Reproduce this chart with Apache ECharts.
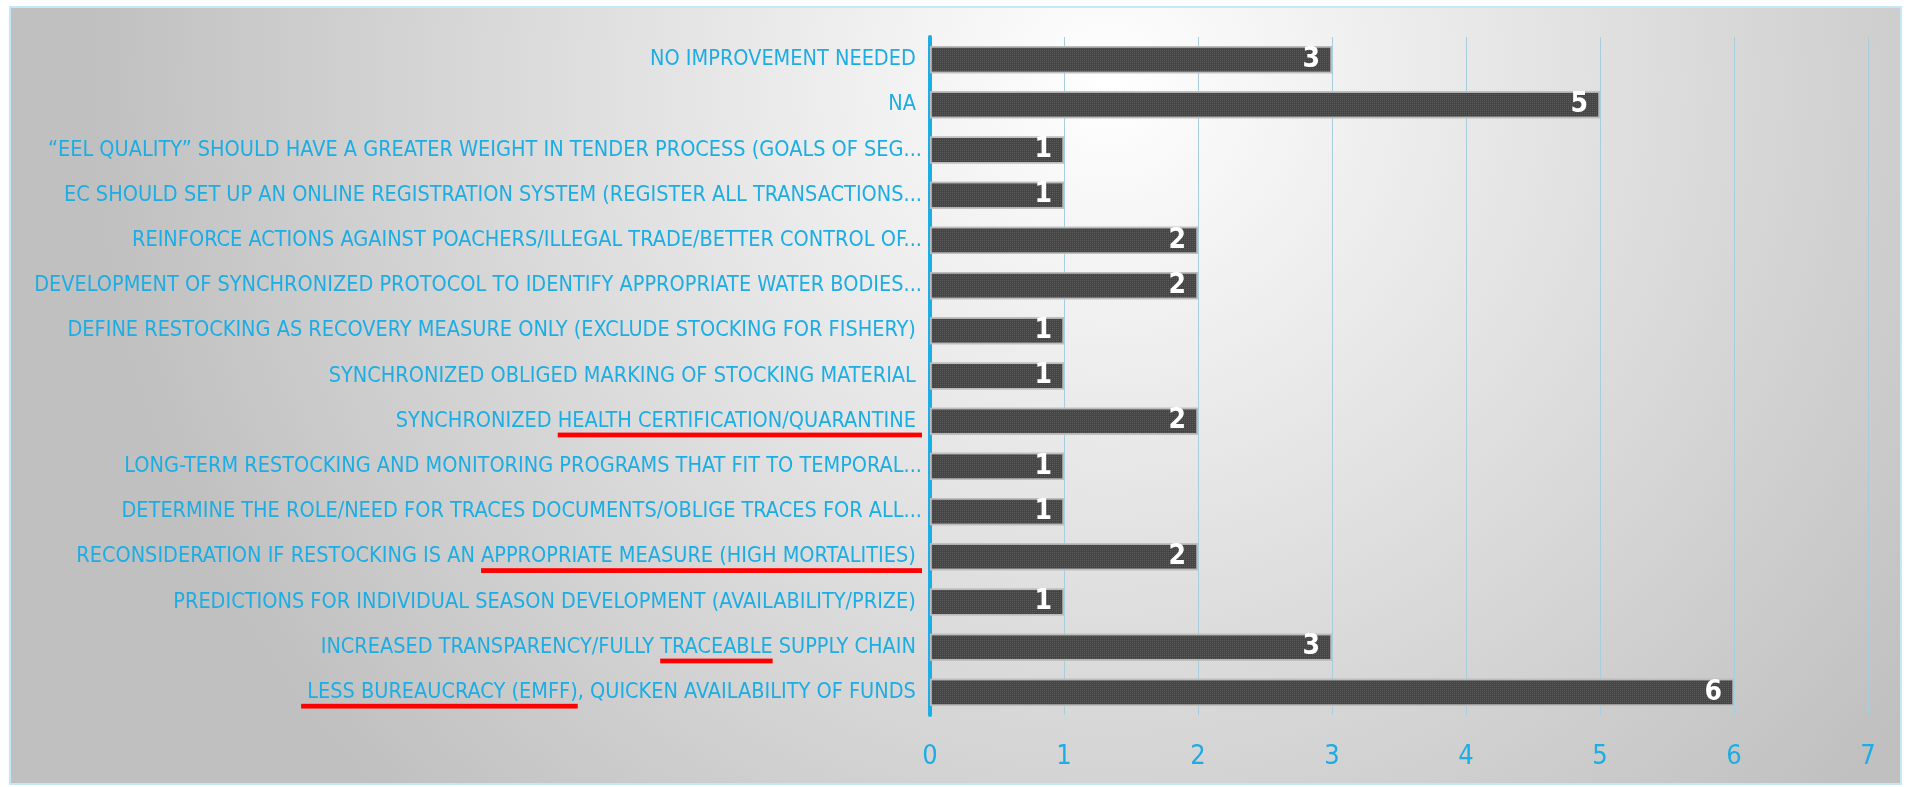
<!DOCTYPE html>
<html>
<head>
<meta charset="utf-8">
<style>
  html, body { margin: 0; padding: 0; background: #ffffff; }
  #chart { width: 1906px; height: 787px; }
</style>
<script src="https://cdn.jsdelivr.net/npm/echarts@6/dist/echarts.min.js"></script>
</head>
<body>
<div id="chart"></div>
<script>
// categories, top to bottom
var categories = [
	'NO IMPROVEMENT NEEDED ',
	'NA ',
	'\u201CEEL QUALITY\u201D SHOULD HAVE A GREATER WEIGHT IN TENDER PROCESS (GOALS OF SEG...',
	'EC SHOULD SET UP AN ONLINE REGISTRATION SYSTEM (REGISTER ALL TRANSACTIONS...',
	'REINFORCE ACTIONS AGAINST POACHERS/ILLEGAL TRADE/BETTER CONTROL OF...',
	'DEVELOPMENT OF SYNCHRONIZED PROTOCOL TO IDENTIFY APPROPRIATE WATER BODIES...',
	'DEFINE RESTOCKING AS RECOVERY MEASURE ONLY (EXCLUDE STOCKING FOR FISHERY) ',
	'SYNCHRONIZED OBLIGED MARKING OF STOCKING MATERIAL ',
	'SYNCHRONIZED HEALTH CERTIFICATION/QUARANTINE ',
	'LONG-TERM RESTOCKING AND MONITORING PROGRAMS THAT FIT TO TEMPORAL...',
	'DETERMINE THE ROLE/NEED FOR TRACES DOCUMENTS/OBLIGE TRACES FOR ALL...',
	'RECONSIDERATION IF RESTOCKING IS AN APPROPRIATE MEASURE (HIGH MORTALITIES) ',
	'PREDICTIONS FOR INDIVIDUAL SEASON DEVELOPMENT (AVAILABILITY/PRIZE) ',
	'INCREASED TRANSPARENCY/FULLY TRACEABLE SUPPLY CHAIN ',
	' LESS BUREAUCRACY (EMFF), QUICKEN AVAILABILITY OF FUNDS '
];
var counts = [3, 5, 1, 1, 2, 2, 1, 1, 2, 1, 1, 2, 1, 3, 6];
var xTicks = [0, 1, 2, 3, 4, 5, 6, 7];

// parts of labels marked in red
var marked = [
	'HEALTH CERTIFICATION/QUARANTINE ',
	'APPROPRIATE MEASURE (HIGH MORTALITIES) ',
	'TRACEABLE',
	' LESS BUREAUCRACY (EMFF)'
];

var BLUE = '#1CADE4';
var FONT = "'Liberation Sans Narrow', 'DejaVu Sans Condensed', 'Open Sans', sans-serif";
var FS = 21.5;

// red underline as a stretched background picture
var ul = document.createElement('canvas');
ul.width = 4; ul.height = 40;
var ctx = ul.getContext('2d');
ctx.fillStyle = '#ff0000';
ctx.fillRect(0, 32, 4, 5);

function labelText(v) {
	for (var i = 0; i < marked.length; i++) {
		var k = v.indexOf(marked[i]);
		if (k >= 0) {
			var a = v.slice(0, k), b = marked[i], c = v.slice(k + b.length);
			return (a ? '{n|' + a + '}' : '') + '{u|' + b + '}' + (c ? '{n|' + c + '}' : '');
		}
	}
	return v;
}

var chart = echarts.init(document.getElementById('chart'));
var option = {
	animation: false,
	graphic: [
		{
			type: 'rect',
			z: -10,
			shape: { x: 10, y: 7, width: 1891, height: 777 },
			style: {
				fill: new echarts.graphic.RadialGradient(0.58, 0.1, 1.3, [
					{ offset: 0, color: '#ffffff' },
					{ offset: 1, color: '#c0c0c0' }
				]),
				stroke: '#c4e8f7',
				lineWidth: 2
			}
		}
	],
	grid: { left: 930, right: 38, top: 37, bottom: 72 },
	xAxis: {
		type: 'value',
		min: 0,
		max: 7,
		interval: 1,
		axisLine: { show: false },
		axisTick: { show: false },
		splitLine: { show: true, lineStyle: { color: '#a8cede', width: 1 } },
		axisLabel: {
			color: BLUE,
			fontSize: 27,
			fontFamily: FONT,
			margin: 28,
			formatter: function (v) { return xTicks.indexOf(v) >= 0 ? String(v) : ''; }
		}
	},
	yAxis: {
		type: 'category',
		inverse: true,
		data: categories,
		axisLine: { show: true, lineStyle: { color: BLUE, width: 4 } },
		axisTick: { show: false },
		splitLine: { show: false },
		axisLabel: {
			color: BLUE,
			fontSize: FS,
			fontFamily: FONT,
			margin: 8,
			formatter: labelText,
			rich: {
				n: { color: BLUE, fontSize: FS, fontFamily: FONT, lineHeight: 24, padding: [8, 0, 8, 0] },
				u: {
					color: BLUE, fontSize: FS, fontFamily: FONT, lineHeight: 24, padding: [8, 0, 8, 0],
					backgroundColor: { image: ul }
				}
			}
		}
	},
	series: [
		{
			type: 'bar',
			data: counts,
			barCategoryGap: '40%',
			itemStyle: {
				color: '#454545',
				borderColor: '#bdbdbd',
				borderWidth: 1.5,
				decal: {
					symbol: 'rect',
					symbolSize: 1,
					dashArrayX: [1, 1],
					dashArrayY: [1, 1],
					color: 'rgba(110,110,110,0.55)',
					rotation: 0
				}
			},
			label: {
				show: true,
				position: 'insideRight',
				distance: 12,
				color: '#ffffff',
				fontSize: 28,
				fontWeight: 'bold',
				fontFamily: FONT
			}
		}
	]
};
chart.setOption(option);
</script>
</body>
</html>
